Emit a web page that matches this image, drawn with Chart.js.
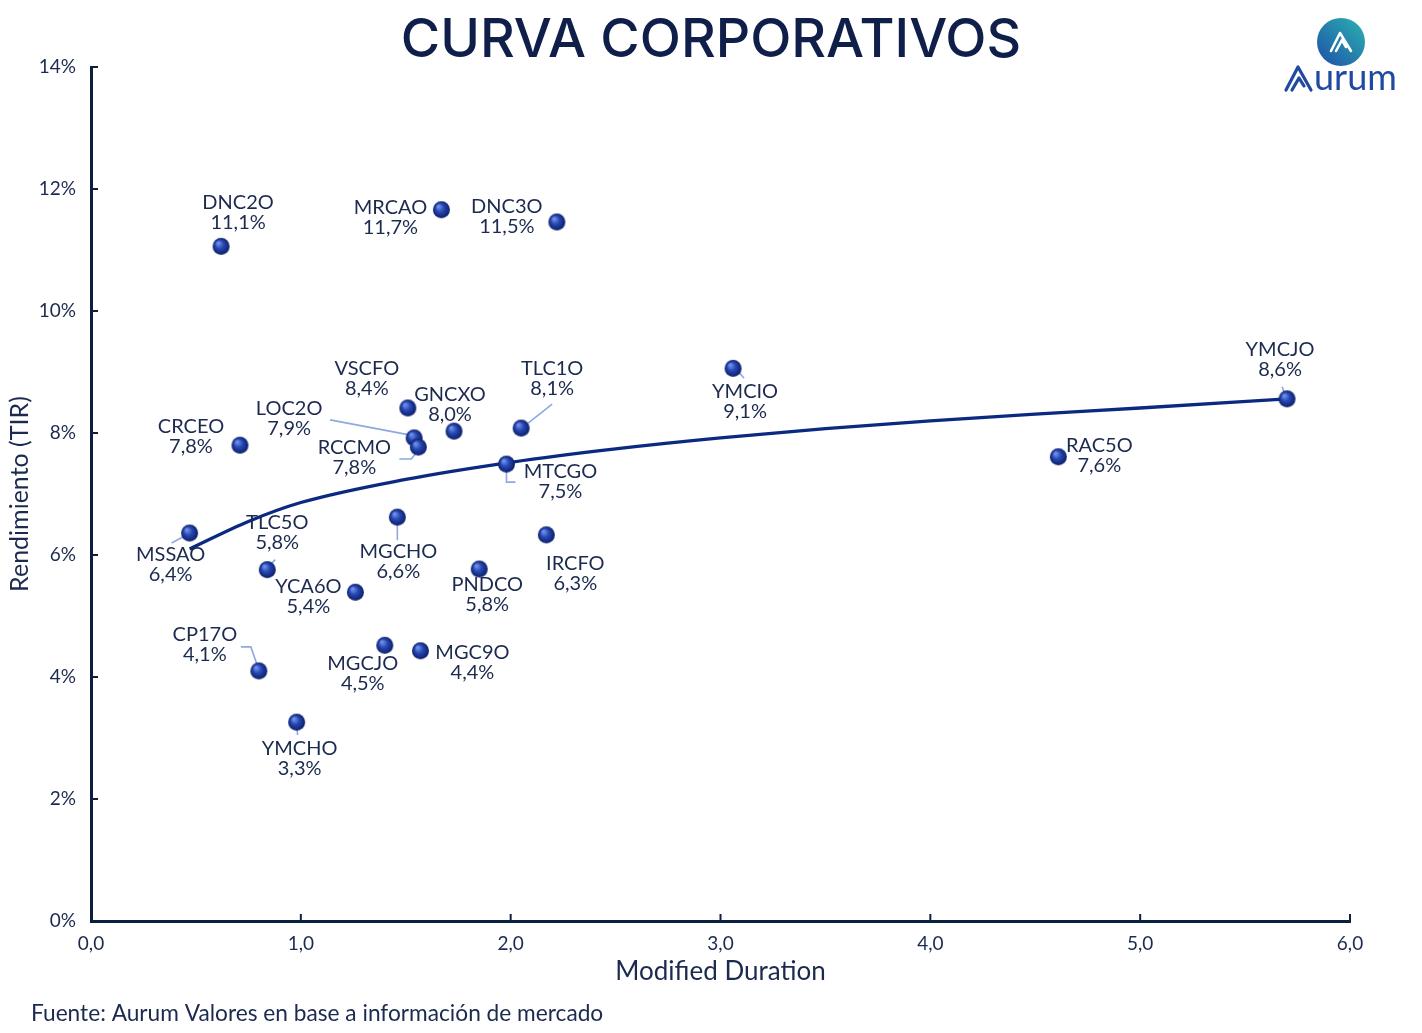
<!DOCTYPE html>
<html>
<head>
<meta charset="utf-8">
<script src="https://cdn.jsdelivr.net/npm/chart.js@4.4.1/dist/chart.umd.min.js"></script>
<style>
  html, body { margin: 0; padding: 0; background: #fff; }
  canvas { display: block; }
</style>
</head>
<body>
<canvas id="myChart" width="1422" height="1033"></canvas>
<script>
// bonds, modified duration (years) and yield (%)
const bonds = ['DNC2O', 'MRCAO', 'DNC3O', 'VSCFO', 'GNCXO', 'TLC1O', 'YMCIO', 'YMCJO',
    'RAC5O', 'CRCEO', 'LOC2O', 'RCCMO', 'MTCGO', 'MSSAO', 'TLC5O', 'MGCHO',
    'IRCFO', 'PNDCO', 'YCA6O', 'CP17O', 'MGCJO', 'MGC9O', 'YMCHO'];
const duration = [0.62, 1.67, 2.22, 1.51, 1.73, 2.05, 3.06, 5.70,
    4.61, 0.71, 1.54, 1.56, 1.98, 0.47, 0.84, 1.46,
    2.17, 1.85, 1.26, 0.80, 1.40, 1.57, 0.98];
const yieldPct = [11.06, 11.66, 11.46, 8.41, 8.03, 8.08, 9.06, 8.56,
    7.61, 7.80, 7.92, 7.77, 7.49, 6.36, 5.76, 6.62,
    6.33, 5.77, 5.39, 4.10, 4.52, 4.43, 3.26];

// trend curve
const trendDuration = [0.47, 0.75, 1.0, 1.5, 2.0, 2.5, 3.0, 3.5, 4.0, 4.5, 5.0, 5.7];
const trendYield = [6.10, 6.55, 6.86, 7.24, 7.52, 7.74, 7.92, 8.07, 8.20, 8.31, 8.41, 8.56];

const xTicks = [0, 1, 2, 3, 4, 5, 6];
const yTicks = [0, 2, 4, 6, 8, 10, 12, 14];

// label placement: offset of the name line from the point (px)
const labelPos = {
    DNC2O: [17, -44], MRCAO: [-51, -2], DNC3O: [-50, -15], VSCFO: [-41, -39],
    GNCXO: [-4, -37], TLC1O: [31, -60], YMCIO: [12, 23], YMCJO: [-7, -49],
    RAC5O: [41, -11], CRCEO: [-49, -19], LOC2O: [-125, -29], RCCMO: [-64, 1],
    MTCGO: [54, 7], MSSAO: [-19, 22], TLC5O: [10, -47], MGCHO: [1, 34],
    IRCFO: [29, 29], PNDCO: [8, 16], YCA6O: [-47, -6], CP17O: [-54, -36],
    MGCJO: [-22, 18], MGC9O: [52, 2], YMCHO: [3, 26]
};
const leaders = {
    TLC1O: [[7, -5], [31, -24]],
    YMCIO: [[5, 3], [11, 10]],
    YMCJO: [[-2, -4], [-5, -12]],
    LOC2O: [[-84, -18], [-5, -3]],
    RCCMO: [[-19, 12], [-7, 12], [0, 3]],
    MTCGO: [[0, 3], [0, 18], [9, 18]],
    MSSAO: [[-18, 10], [-5, 3]],
    TLC5O: [[8, -10], [1, -3]],
    MGCHO: [[0, 3], [0, 23]],
    CP17O: [[-18, -24], [-8, -24], [-1, -4]],
    YMCHO: [[0, 3], [1, 13]]
};

const navy = '#1b2a4e';
const FONT = 'Lato, "Open Sans", sans-serif';

function makeBall(r) {
    const c = document.createElement('canvas');
    const s = r * 2 + 2;
    c.width = c.height = s;
    const g = c.getContext('2d');
    const cx = s / 2, cy = s / 2;
    const grad = g.createRadialGradient(cx - r * 0.35, cy - r * 0.4, r * 0.1, cx, cy, r);
    grad.addColorStop(0, '#7090ea');
    grad.addColorStop(0.45, '#2747b2');
    grad.addColorStop(1, '#0b1e68');
    g.fillStyle = grad;
    g.beginPath();
    g.arc(cx, cy, r, 0, Math.PI * 2);
    g.fill();
    return c;
}
const ball = makeBall(8.5);

const points = bonds.map((b, i) => ({x: duration[i], y: yieldPct[i]}));
const trend = trendDuration.map((d, i) => ({x: d, y: trendYield[i]}));

const fmtPct = v => v.toFixed(1).replace('.', ',') + '%';

const extras = {
    id: 'extras',
    beforeDatasetsDraw(chart) {
        const ctx = chart.ctx;
        const meta = chart.getDatasetMeta(0);
        ctx.save();
        ctx.strokeStyle = '#8fa8e0';
        ctx.lineWidth = 1.6;
        bonds.forEach((b, i) => {
            const path = leaders[b];
            if (!path) return;
            const p = meta.data[i];
            ctx.beginPath();
            path.forEach((o, k) => {
                if (k === 0) ctx.moveTo(p.x + o[0], p.y + o[1]);
                else ctx.lineTo(p.x + o[0], p.y + o[1]);
            });
            ctx.stroke();
        });
        ctx.restore();
    },
    afterDatasetsDraw(chart) {
        const ctx = chart.ctx;
        const meta = chart.getDatasetMeta(0);
        ctx.save();
        ctx.fillStyle = navy;
        ctx.font = '20px ' + FONT;
        ctx.textAlign = 'center';
        ctx.textBaseline = 'middle';
        bonds.forEach((b, i) => {
            const p = meta.data[i];
            const o = labelPos[b];
            ctx.fillText(b, p.x + o[0], p.y + o[1]);
            ctx.fillText(fmtPct(yieldPct[i]), p.x + o[0], p.y + o[1] + 20);
        });
        ctx.restore();
    },
    afterDraw(chart) {
        const ctx = chart.ctx;
        const xs = chart.scales.x, ys = chart.scales.y;
        const area = chart.chartArea;
        ctx.save();
        // inner tick marks
        ctx.strokeStyle = '#0d1f3f';
        ctx.lineWidth = 2;
        xTicks.forEach(v => {
            const px = xs.getPixelForValue(v);
            ctx.beginPath();
            ctx.moveTo(px, area.bottom);
            ctx.lineTo(px, area.bottom - 7);
            ctx.stroke();
        });
        yTicks.forEach(v => {
            const py = ys.getPixelForValue(v);
            ctx.beginPath();
            ctx.moveTo(area.left, py);
            ctx.lineTo(area.left + 7, py);
            ctx.stroke();
        });

        // title
        ctx.fillStyle = '#0f1f4a';
        ctx.textAlign = 'center';
        ctx.textBaseline = 'middle';
        const title = 'CURVA CORPORATIVOS';
        const tFont = 'Inter, Lato, sans-serif';
        let size = 50;
        ctx.font = '500 ' + size + 'px ' + tFont;
        size = size * 621 / ctx.measureText(title).width;
        ctx.font = '500 ' + size.toFixed(1) + 'px ' + tFont;
        ctx.fillText(title, 711, 41);

        // footnote
        ctx.fillStyle = navy;
        ctx.textAlign = 'left';
        ctx.font = '22.7px ' + FONT;
        ctx.fillText('Fuente: Aurum Valores en base a información de mercado', 31, 1014);

        // logo
        const cx = 1341, cy = 42, r = 24;
        const g = ctx.createLinearGradient(cx + r, cy - r, cx - r, cy + r);
        g.addColorStop(0, '#2bb3b0');
        g.addColorStop(1, '#1e4fa8');
        ctx.fillStyle = g;
        ctx.beginPath();
        ctx.arc(cx, cy, r, 0, Math.PI * 2);
        ctx.fill();
        ctx.strokeStyle = '#fff';
        ctx.lineWidth = 2.6;
        ctx.lineJoin = 'round';
        ctx.lineCap = 'round';
        ctx.beginPath();
        ctx.moveTo(cx - 10, cy + 9);
        ctx.lineTo(cx - 1, cy - 9);
        ctx.lineTo(cx + 10, cy + 9);
        ctx.moveTo(cx - 5, cy + 9);
        ctx.lineTo(cx + 1, cy - 2);
        ctx.lineTo(cx + 5, cy + 5);
        ctx.stroke();

        ctx.strokeStyle = '#1f4aa0';
        ctx.lineWidth = 3.2;
        ctx.beginPath();
        ctx.moveTo(1286, 90);
        ctx.lineTo(1298, 67);
        ctx.lineTo(1311, 90);
        ctx.moveTo(1292, 90);
        ctx.lineTo(1299, 78);
        ctx.lineTo(1304, 86);
        ctx.stroke();
        ctx.fillStyle = '#1f4aa0';
        ctx.textBaseline = 'alphabetic';
        ctx.font = '36px ' + FONT;
        ctx.fillText('urum', 1314, 90);
        ctx.restore();
    }
};

const ctx = document.getElementById('myChart').getContext('2d');

const chart = new Chart(ctx, {
    type: 'scatter',
    data: {
        datasets: [{
            label: 'Bonos',
            data: points,
            pointStyle: ball,
            pointRadius: 8,
            pointHoverRadius: 8
        }, {
            type: 'line',
            label: 'Tendencia',
            data: trend,
            borderColor: '#0a2a82',
            borderWidth: 3.3,
            pointRadius: 0,
            fill: false,
            cubicInterpolationMode: 'monotone'
        }]
    },
    options: {
        responsive: false,
        animation: false,
        layout: {padding: {left: 0, top: 67, right: 72, bottom: 0}},
        plugins: {
            legend: {display: false},
            tooltip: {enabled: false}
        },
        scales: {
            x: {
                type: 'linear',
                min: 0,
                max: 6,
                afterBuildTicks: s => { s.ticks = xTicks.map(v => ({value: v})); },
                afterFit: s => { s.height = 112; },
                grid: {drawOnChartArea: false, drawTicks: false},
                border: {color: '#0d1f3f', width: 3},
                ticks: {
                    padding: 11,
                    color: navy,
                    font: {family: FONT, size: 19},
                    callback: v => v.toFixed(1).replace('.', ',')
                },
                title: {
                    display: true,
                    text: 'Modified Duration',
                    color: navy,
                    font: {family: FONT, size: 26},
                    padding: {top: 0, bottom: 46}
                }
            },
            y: {
                min: 0,
                max: 14,
                afterBuildTicks: s => { s.ticks = yTicks.map(v => ({value: v})); },
                afterFit: s => { s.width = 91; },
                grid: {drawOnChartArea: false, drawTicks: false},
                border: {color: '#0d1f3f', width: 3},
                ticks: {
                    padding: 15,
                    color: navy,
                    font: {family: FONT, size: 19},
                    callback: v => v + '%'
                },
                title: {
                    display: true,
                    text: 'Rendimiento (TIR)',
                    color: navy,
                    font: {family: FONT, size: 25},
                    padding: {top: 5, bottom: 0}
                }
            }
        }
    },
    plugins: [extras]
});
</script>
</body>
</html>
